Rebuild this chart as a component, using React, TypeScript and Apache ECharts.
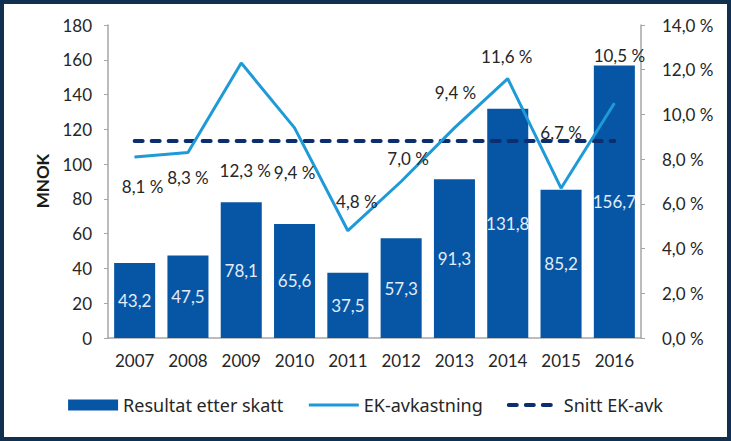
import React, { useEffect, useRef } from "react";
import * as echarts from "echarts";

const years = ["2007", "2008", "2009", "2010", "2011", "2012", "2013", "2014", "2015", "2016"];
const resultat = [43.2, 47.5, 78.1, 65.6, 37.5, 57.3, 91.3, 131.8, 85.2, 156.7];
const ekAvkastning = [8.1, 8.3, 12.3, 9.4, 4.8, 7.0, 9.4, 11.6, 6.7, 10.5];
const snittEk = [8.81, 8.81, 8.81, 8.81, 8.81, 8.81, 8.81, 8.81, 8.81, 8.81];
const leftTicks = { min: 0, max: 180, interval: 20 };
const rightTicks = { min: 0, max: 14, interval: 2 };

// label offsets (px) mimicking the reference's hand-placed labels
const ekLabelOffsets: [number, number][] = [
  [8, 30], [0, 25], [4, 107], [0, 45], [9, -29], [7, -23], [1, -35], [-1, -22], [0, -56], [5, -48],
];

const FONT = "Lato";
const LEGEND_FONT = "Noto Sans";
const FS = 17;
const fmtPct = (v: number) => v.toFixed(1).replace(".", ",") + " %";
const fmtNum = (v: number) => v.toFixed(1).replace(".", ",");

export default function App() {
  const ref = useRef<HTMLDivElement>(null);
  useEffect(() => {
    document.body.style.margin = "0";
    const chart = echarts.init(ref.current!, null, { renderer: "svg" });
    chart.setOption({
      animation: false,
      textStyle: { fontFamily: FONT },
      grid: { left: 108, right: 90, top: 25, bottom: 103 },
      legend: {
        bottom: 22,
        left: "center",
        itemGap: 24,
        itemWidth: 50,
        itemHeight: 11,
        textStyle: { fontFamily: LEGEND_FONT, fontSize: 18, color: "#262626" },
        data: [
          { name: "Resultat etter skatt", icon: "rect" },
          { name: "EK-avkastning", itemStyle: { opacity: 0 }, lineStyle: { width: 3 } },
          {
            name: "Snitt EK-avk",
            itemStyle: { opacity: 0 },
            lineStyle: { width: 4, type: [8, 9], cap: "round" },
          },
        ],
      },
      graphic: [
        {
          type: "text",
          x: 42,
          y: 181,
          rotation: Math.PI / 2,
          style: {
            text: "MNOK",
            fontFamily: FONT,
            fontSize: FS,
            fontWeight: "bold",
            fill: "#1a1a1a",
            align: "center",
            verticalAlign: "middle",
          },
        },
      ],
      xAxis: {
        type: "category",
        data: years,
        axisLine: { lineStyle: { color: "#a6a6a6", width: 1.5 } },
        axisTick: { show: false },
        axisLabel: { color: "#262626", fontSize: FS, margin: 14, fontFamily: FONT },
      },
      yAxis: [
        {
          type: "value",
          ...leftTicks,
          axisLine: { show: true, lineStyle: { color: "#a6a6a6", width: 1.5 } },
          axisTick: { show: true, length: 4, lineStyle: { color: "#a6a6a6" } },
          splitLine: { show: false },
          axisLabel: { color: "#262626", fontSize: FS, margin: 16, fontFamily: FONT },
        },
        {
          type: "value",
          ...rightTicks,
          position: "right",
          axisLine: { show: true, lineStyle: { color: "#a6a6a6", width: 1.5 } },
          axisTick: { show: true, length: 4, lineStyle: { color: "#a6a6a6" } },
          splitLine: { show: false },
          axisLabel: {
            color: "#262626",
            fontSize: FS,
            margin: 21,
            fontFamily: FONT,
            formatter: (v: number) => fmtPct(v),
          },
        },
      ],
      series: [
        {
          name: "Resultat etter skatt",
          type: "bar",
          data: resultat,
          barCategoryGap: "23%",
          itemStyle: { color: "#0756a5" },
          label: {
            show: true,
            position: "inside",
            color: "#e4ecf7",
            fontSize: FS,
            fontFamily: FONT,
            formatter: (p: any) => fmtNum(p.value),
          },
        },
        {
          name: "EK-avkastning",
          type: "line",
          yAxisIndex: 1,
          symbol: "circle",
          symbolSize: 1,
          showSymbol: true,
          data: ekAvkastning.map((v, i) => ({
            value: v,
            label: { offset: ekLabelOffsets[i] },
          })),
          lineStyle: { color: "#1e9ad6", width: 3 },
          itemStyle: { color: "#1e9ad6" },
          label: {
            show: true,
            position: "inside",
            color: "#262626",
            fontSize: FS,
            fontFamily: FONT,
            formatter: (p: any) => fmtPct(p.value),
          },
          z: 3,
        },
        {
          name: "Snitt EK-avk",
          type: "line",
          yAxisIndex: 1,
          symbol: "none",
          data: snittEk,
          lineStyle: { color: "#0c2e6e", width: 4, type: [8, 9], cap: "round" },
          itemStyle: { color: "#0c2e6e" },
          z: 2,
        },
      ],
    });
    return () => chart.dispose();
  }, []);
  return (
    <div
      style={{
        position: "fixed",
        left: 0,
        top: 0,
        width: 731,
        height: 441,
        boxSizing: "border-box",
        border: "4px solid #11304f",
        background: "#fff",
      }}
    >
      <div ref={ref} style={{ position: "absolute", left: -4, top: -4, width: 731, height: 441 }} />
    </div>
  );
}
